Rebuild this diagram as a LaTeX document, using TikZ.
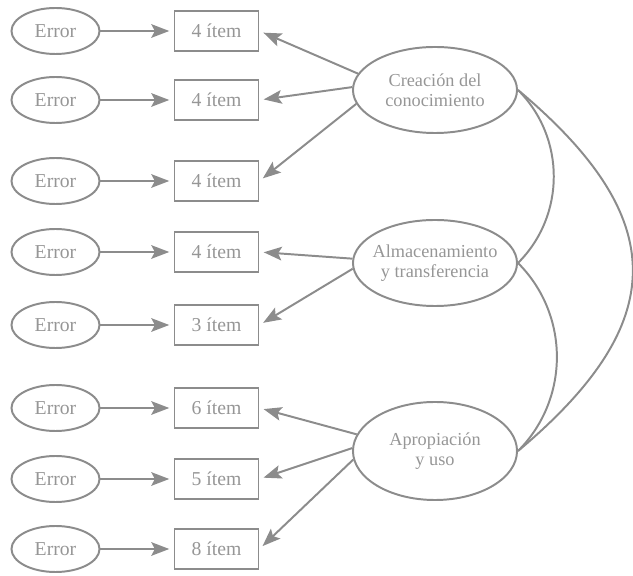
\documentclass[tikz,border=0pt]{standalone}
\usepackage{fontspec}
\setmainfont{Liberation Serif}
\usepackage{tikz}
\usetikzlibrary{arrows.meta,shapes.geometric}

\definecolor{linegray}{RGB}{140,140,140}
\definecolor{textgray}{RGB}{150,150,150}

\begin{document}
\begin{tikzpicture}[x=0.025cm, y=-0.025cm,
    err/.style={draw=linegray, line width=1.4pt, ellipse, minimum width=2.2cm, minimum height=1.15cm, inner sep=0pt, text=textgray, font=\fontsize{14}{15}\selectfont},
    item/.style={draw=linegray, line width=1.4pt, rectangle, minimum width=2.1cm, minimum height=1.02cm, inner sep=0pt, text=textgray, font=\fontsize{14}{15}\selectfont},
    factor/.style={draw=linegray, line width=1.4pt, ellipse, minimum width=4.1cm, minimum height=2.15cm, inner sep=-8pt, align=center, text=textgray, font=\fontsize{13}{14}\selectfont},
    link/.style={draw=linegray, line width=1.4pt, -{Stealth[length=0.45cm, width=0.34cm, inset=0.09cm]}, shorten >=3pt},
    cov/.style={draw=linegray, line width=1.4pt}]
    \useasboundingbox (0,0) rectangle (633,576);

    % errores
    \node[err] (e1) at (55.5,31) {Error};
    \node[err] (e2) at (55.5,100) {Error};
    \node[err] (e3) at (55.5,181) {Error};
    \node[err] (e4) at (55.5,252) {Error};
    \node[err] (e5) at (55.5,325) {Error};
    \node[err] (e6) at (55.5,408) {Error};
    \node[err] (e7) at (55.5,479) {Error};
    \node[err] (e8) at (55.5,549) {Error};

    % items
    \node[item] (i1) at (216.5,31) {4 ítem};
    \node[item] (i2) at (216.5,100) {4 ítem};
    \node[item] (i3) at (216.5,181) {4 ítem};
    \node[item] (i4) at (216.5,252) {4 ítem};
    \node[item] (i5) at (216.5,325) {3 ítem};
    \node[item] (i6) at (216.5,408) {6 ítem};
    \node[item] (i7) at (216.5,479) {5 ítem};
    \node[item] (i8) at (216.5,549) {8 ítem};

    % factores
    \node[factor] (crea) at (435,90) {Creación del\\conocimiento};
    \node[factor] (alma) at (435,263) {Almacenamiento\\y transferencia};
    \node[factor, minimum height=2.45cm] (apro) at (435,451) {Apropiación\\y uso};

    \draw[link] (e1) -- (i1);
    \draw[link] (e2) -- (i2);
    \draw[link] (e3) -- (i3);
    \draw[link] (e4) -- (i4);
    \draw[link] (e5) -- (i5);
    \draw[link] (e6) -- (i6);
    \draw[link] (e7) -- (i7);
    \draw[link] (e8) -- (i8);

    \draw[link] (crea.168) -- (i1.east);
    \draw[link] (crea.178) -- (i2.east);
    \draw[link] (crea.190) -- (i3.east);
    \draw[link] (alma.177) -- (i4.east);
    \draw[link] (alma.184) -- (i5.east);
    \draw[link] (apro.168) -- (i6.east);
    \draw[link] (apro.178) -- (i7.east);
    \draw[link] (apro.186) -- (i8.east);

    % covarianzas
    \draw[cov] (crea.east) to[out=-45, in=45] (alma.east);
    \draw[cov] (alma.east) to[out=-45, in=45] (apro.east);
    \draw[cov] (crea.east) to[out=-40, in=40, looseness=1.42] (apro.east);
\end{tikzpicture}
\end{document}
